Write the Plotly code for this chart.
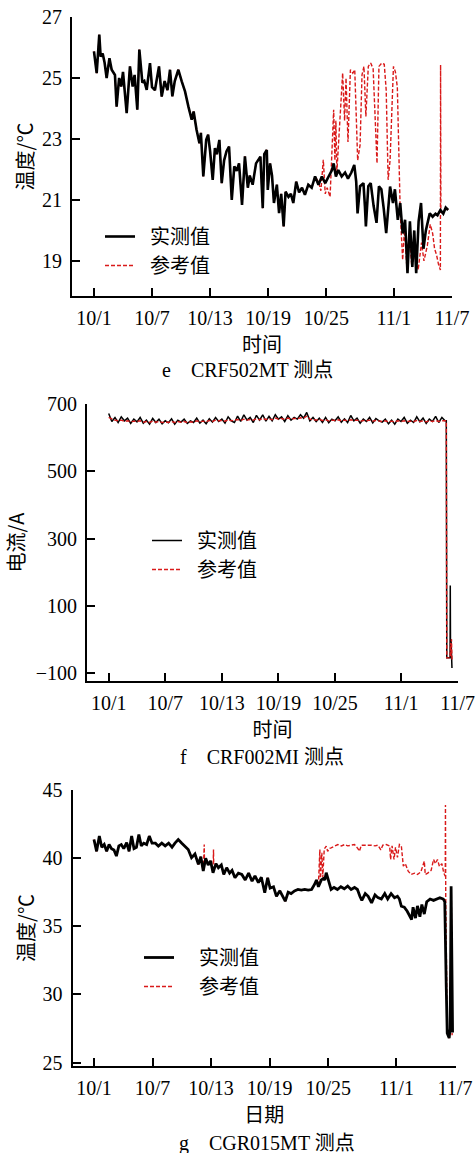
import plotly.graph_objects as go

# ---------------- shared axis labels ----------------
tick_days = [0, 6, 12, 18, 24, 31, 37]
tick_labels = ["10/1", "10/7", "10/13", "10/19", "10/25", "11/1", "11/7"]

# ---------------- panel e : CRF502MT (temperature) ----------------
meas_e_x = [0, 0.28, 0.55, 0.69, 0.9, 1.1, 1.31, 1.6, 1.83, 2.0, 2.17, 2.34, 2.6, 2.82, 3.0, 3.38, 3.72, 4.0, 4.2,
            4.48, 4.69, 5.0, 5.2, 5.45, 5.79, 6.0, 6.3, 6.72, 7.0, 7.3, 7.6, 7.86, 8.1, 8.35, 8.72, 9.07, 9.41, 9.76,
            10.1, 10.3, 10.6, 10.9, 11.05, 11.3, 11.6, 11.8, 12.0, 12.27, 12.5, 12.7, 12.96, 13.2, 13.45, 13.7, 13.96,
            14.24, 14.5, 14.75, 14.99, 15.3, 15.6, 15.9, 16.1, 16.4, 16.75, 17.2, 17.44, 17.6, 17.86, 17.96, 18.2,
            18.4, 18.6, 18.9, 19.13, 19.35, 19.6, 19.8, 20.1, 20.35, 20.6, 20.9, 21.2, 21.5, 21.8, 22.15, 22.5, 22.85,
            23.2, 23.55, 23.9, 24.25, 24.6, 24.77, 25.0, 25.25, 25.6, 25.95, 26.25, 26.6, 26.9, 27.1, 27.24, 27.5,
            27.85, 28.0, 28.1, 28.35, 28.6, 28.9, 29.2, 29.45, 29.7, 29.95, 30.2, 30.6, 30.9, 31.1, 31.4, 31.65, 31.9,
            32.15, 32.4, 32.65, 32.9, 33.1, 33.3, 33.55, 33.8, 34.05, 34.3, 34.7, 35.0, 35.3, 35.5, 35.8, 36.1, 36.35,
            36.6]
meas_e_y = [25.87, 25.16, 26.42, 25.7, 25.8, 25.5, 25.0, 25.65, 25.27, 25.2, 25.1, 24.06, 25.0, 24.72, 25.2, 23.85,
            25.38, 24.72, 25.1, 23.96, 25.93, 24.85, 24.9, 24.61, 25.49, 24.7, 24.6, 25.38, 24.39, 24.9, 24.6, 25.27,
            24.4, 24.9, 25.27, 24.89, 24.56, 24.06, 23.63, 23.9, 23.3, 22.86, 23.2, 21.77, 22.97, 23.14, 22.6, 21.66,
            22.7, 22.5, 22.97, 21.55, 22.3, 22.6, 22.75, 21.0, 22.1, 21.95, 22.2, 20.84, 22.43, 21.4, 21.8, 21.5, 22.2,
            22.42, 20.73, 22.5, 22.64, 21.33, 22.2, 21.8, 20.9, 21.5, 20.57, 21.2, 20.13, 21.27, 21.1, 21.2, 20.9,
            21.6, 21.25, 21.4, 21.17, 21.5, 21.4, 21.77, 21.5, 21.77, 21.55, 21.77, 21.98, 22.2, 21.77, 21.98, 21.77,
            21.9, 21.7, 21.9, 22.15, 21.6, 20.56, 21.45, 21.55, 20.8, 20.13, 21.45, 21.55, 20.8, 20.25, 21.45, 21.35,
            20.7, 19.91, 21.44, 20.9, 21.35, 20.35, 20.9, 19.9, 20.35, 18.6, 20.3, 18.8, 20.0, 18.6, 20.3, 20.9, 19.4,
            20.0, 20.56, 20.45, 20.55, 20.5, 20.67, 20.55, 20.75, 20.67]
# reference coincides with the measurement up to 10/23 (first 88 samples)
ref_e_common = 88
ref_e_tail_x = [23.2, 23.45, 23.7, 23.9, 24.1, 24.4, 24.6, 24.77, 24.9, 25.0, 25.1, 25.3, 25.5, 25.7, 25.9, 26.05,
                26.25, 26.5, 26.75, 26.95, 27.1, 27.25, 27.5, 27.7, 27.9, 28.1, 28.35, 28.6, 28.85, 29.05, 29.25,
                29.45, 29.75, 30.0, 30.2, 30.4, 30.6, 30.95, 31.15, 31.35, 31.5, 31.65, 31.9, 32.1, 32.35, 32.6,
                32.85, 33.2, 33.5, 33.85, 34.1, 34.45, 34.75, 35.0, 35.2, 35.4, 35.6, 35.8, 35.82, 35.85, 36.1,
                36.35, 36.6]
ref_e_tail_y = [21.6, 21.3, 22.32, 21.2, 21.4, 21.1, 22.97, 23.96, 22.3, 23.6, 21.9, 23.0, 24.2, 25.16, 23.6, 25.0,
                22.9, 25.27, 25.16, 25.27, 23.8, 22.3, 22.8, 25.1, 25.38, 23.74, 25.38, 25.49, 25.3, 23.8, 22.2,
                25.38, 25.49, 25.45, 24.6, 21.66, 22.3, 25.38, 25.2, 24.7, 22.0, 20.6, 19.03, 20.1, 18.7, 19.8,
                18.8, 19.3, 18.7, 19.6, 19.0, 19.5, 20.2, 19.9, 19.4, 19.2, 18.9, 18.7, 25.43, 20.6, 20.55, 20.75,
                20.67]
ref_e_x = meas_e_x[:ref_e_common] + ref_e_tail_x
ref_e_y = meas_e_y[:ref_e_common] + ref_e_tail_y
e_yticks = [19, 21, 23, 25, 27]

# ---------------- panel f : CRF002MI (current) ----------------
meas_f_level = [672, 648, 660, 645, 662, 650, 658, 642, 655, 647, 660, 643, 652, 640, 657, 645, 655, 641,
                650, 644, 656, 640, 652, 646, 655, 642, 650, 645, 658, 643, 652, 641, 656, 646, 660, 648,
                655, 643, 662, 650, 645, 664, 648, 668, 652, 660, 645, 666, 652, 668, 649, 663, 650, 668,
                655, 662, 648, 665, 652, 660, 655, 668, 658, 675, 650, 660, 648, 658, 645, 660, 644, 655,
                650, 662, 646, 656, 645, 666, 650, 658, 643, 655, 648, 660, 644, 657, 650, 646, 655, 641,
                652, 640, 655, 648, 660, 643, 652, 645, 662, 647, 658, 642, 655, 648, 663, 645, 660, 650]
ref_f_level = [660, 655, 652, 650, 652, 648, 650, 647, 649, 648, 650, 646, 648, 645, 649, 646, 648, 645,
               647, 645, 648, 645, 648, 646, 648, 645, 647, 646, 650, 647, 649, 647, 651, 648, 652, 650,
               651, 649, 653, 650, 652, 654, 651, 655, 652, 654, 652, 656, 653, 657, 654, 656, 653, 658,
               655, 657, 654, 658, 655, 657, 656, 659, 658, 664, 655, 654, 652, 654, 651, 653, 650, 652,
               651, 653, 650, 652, 650, 653, 651, 652, 649, 651, 650, 652, 649, 651, 650, 648, 650, 647,
               649, 647, 650, 648, 650, 648, 649, 648, 651, 648, 650, 647, 650, 648, 651, 648, 650, 649]
f_sample_step = 1 / 3  # three readings per day
meas_f_tail_x = [35.8, 35.85, 36.2, 36.22, 36.25, 36.3, 36.35, 36.4]
meas_f_tail_y = [650, -55, -55, 160, -50, 0, -50, -85]
ref_f_tail_x = [35.8, 35.85, 36.2, 36.25, 36.3, 36.35, 36.4]
ref_f_tail_y = [650, -55, -55, -10, -50, 0, -60]
f_yticks = [-100, 100, 300, 500, 700]

meas_f_x = [i * f_sample_step for i in range(len(meas_f_level))] + meas_f_tail_x
meas_f_y = meas_f_level + meas_f_tail_y
ref_f_x = [i * f_sample_step for i in range(len(ref_f_level))] + ref_f_tail_x
ref_f_y = ref_f_level + ref_f_tail_y

# ---------------- panel g : CGR015MT (temperature) ----------------
meas_g_x = [0, 0.27, 0.55, 0.8, 1.05, 1.3, 1.55, 1.8, 2.05, 2.3, 2.55, 2.8, 3.05, 3.35, 3.6, 3.86, 4.1, 4.35, 4.6,
            4.85, 5.1, 5.4, 5.67, 5.95, 6.3, 6.6, 6.95, 7.3, 7.65, 8.0, 8.3, 8.64, 9.0, 9.3, 9.66, 10.0, 10.35, 10.7,
            10.95, 11.2, 11.45, 11.7, 11.95, 12.2, 12.5, 12.75, 13.05, 13.3, 13.6, 13.9, 14.15, 14.45, 14.8, 15.15,
            15.5, 15.85, 16.2, 16.5, 16.85, 17.15, 17.5, 17.8, 18.05, 18.4, 18.7, 19.05, 19.35, 19.6, 19.9, 20.2,
            20.55, 20.9, 21.25, 21.6, 21.95, 22.3, 22.6, 22.8, 23.0, 23.3, 23.5, 23.65, 23.8, 24.0, 24.3, 24.6,
            24.95, 25.3, 25.65, 26.0, 26.35, 26.7, 27.0, 27.25, 27.45, 27.8, 28.1, 28.45, 28.8, 29.1, 29.45, 29.8,
            30.1, 30.45, 30.8, 31.1, 31.3, 31.5, 31.8, 32.1, 32.55, 32.7, 32.95, 33.15, 33.4, 33.6, 33.85, 34.1,
            34.45, 34.8, 35.1, 35.45, 35.8, 35.95, 36.1, 36.2, 36.4, 36.5, 36.6, 36.68, 36.75]
meas_g_y = [41.37, 40.5, 41.62, 40.8, 41.0, 40.5, 41.0, 40.7, 40.6, 40.15, 40.9, 41.0, 40.7, 41.13, 40.5, 41.62,
            40.7, 40.8, 41.74, 40.9, 41.1, 41.0, 41.62, 41.1, 41.1, 40.88, 41.1, 40.9, 41.1, 40.8, 41.1, 41.37, 41.1,
            40.9, 40.64, 40.03, 40.3, 39.54, 40.1, 39.05, 40.0, 39.5, 39.8, 38.93, 39.6, 39.3, 39.5, 38.8, 39.3, 38.9,
            39.1, 38.56, 38.9, 38.8, 38.4, 38.9, 38.31, 38.7, 38.2, 38.6, 37.46, 38.56, 37.8, 37.9, 37.2, 37.6, 37.2,
            36.84, 37.5, 37.4, 37.6, 37.7, 37.65, 37.7, 37.65, 37.7, 38.07, 38.4, 37.9, 38.4, 38.5, 38.4, 38.93, 38.4,
            37.7, 37.85, 37.7, 37.9, 37.75, 37.95, 37.7, 37.85, 37.7, 37.2, 36.9, 37.4, 37.2, 36.72, 37.3, 37.1,
            37.0, 37.4, 37.0, 37.4, 37.1, 37.2, 37.0, 36.47, 36.4, 36.1, 35.5, 36.4, 35.6, 36.5, 35.7, 36.6, 35.9,
            36.8, 37.0, 36.9, 37.0, 37.09, 37.0, 36.8, 30.6, 27.16, 26.8, 27.5, 37.94, 32.0, 27.2]
# reference: same as measurement up to 10/23 except two short spikes, then its own course
ref_g_spike1_x = [11.3, 11.32]
ref_g_spike1_y = [41.0, 39.8]
ref_g_spike2_x = [12.25, 12.27]
ref_g_spike2_y = [40.64, 39.6]
ref_g_tail_x = [22.8, 23.0, 23.1, 23.15, 23.2, 23.35, 23.45, 23.6, 23.7, 23.8, 23.95, 24.1, 24.3, 24.7, 25.0, 25.35,
                25.7, 26.0, 26.35, 26.7, 27.05, 27.2, 27.4, 27.75, 28.1, 28.45, 28.8, 29.1, 29.4, 29.6, 29.95, 30.3,
                30.4, 30.55, 30.75, 30.9, 31.1, 31.3, 31.5, 31.7, 31.9, 32.2, 32.5, 32.85, 33.15, 33.5, 33.85, 33.95,
                34.2, 34.55, 34.8, 35.0, 35.2, 35.4, 35.65, 35.85, 36.0, 36.02, 36.05, 36.2, 36.4, 36.5, 36.62, 36.7]
ref_g_tail_y = [38.4, 38.0, 40.3, 40.64, 38.3, 40.4, 38.6, 40.7, 40.76, 40.88, 40.5, 40.7, 40.76, 40.88, 41.0, 40.9,
                41.0, 40.9, 40.95, 41.0, 40.7, 40.5, 40.95, 40.95, 41.0, 40.95, 40.9, 40.95, 40.6, 40.95, 41.0, 40.9,
                39.9, 40.9, 39.9, 40.8, 40.05, 41.0, 40.9, 39.41, 39.6, 39.05, 38.8, 38.9, 38.8, 39.0, 39.78, 38.8,
                38.9, 39.1, 39.9, 39.6, 39.9, 39.4, 39.6, 38.9, 38.68, 43.9, 37.0, 27.2, 26.8, 27.5, 37.5, 27.0]
ref_g_x = (meas_g_x[:40] + ref_g_spike1_x + meas_g_x[40:44] + ref_g_spike2_x + meas_g_x[44:77] + ref_g_tail_x)
ref_g_y = (meas_g_y[:40] + ref_g_spike1_y + meas_g_y[40:44] + ref_g_spike2_y + meas_g_y[44:77] + ref_g_tail_y)
g_yticks = [25, 30, 35, 40, 45]

# ---------------- styling ----------------
FONT = "Liberation Serif, Noto Sans CJK SC, serif"
CJK = "Noto Sans CJK SC, Liberation Serif, sans-serif"
BLACK = "#000000"
RED = "#d91a1a"
W, H = 475, 1153


def px_dom(a, b):
    return [a / W, b / W]


def py_dom(top, bottom):
    return [(H - bottom) / H, (H - top) / H]


def xaxis(dom, anchor, rng, title):
    return dict(domain=dom, anchor=anchor, range=rng, tickmode="array", tickvals=tick_days, ticktext=tick_labels,
                ticks="inside", ticklen=8, tickwidth=2, tickcolor=BLACK, showline=True, linewidth=2,
                linecolor=BLACK, showgrid=False, zeroline=False, ticklabelstandoff=3, automargin=False,
                ticklabeloverflow="allow",
                tickfont=dict(family=FONT, size=20, color=BLACK),
                title=dict(text=title, font=dict(family=CJK, size=20, color=BLACK), standoff=0))


def yaxis(dom, anchor, rng, ticks, title, standoff):
    return dict(domain=dom, anchor=anchor, range=rng, tickmode="array", tickvals=ticks,
                ticks="inside", ticklen=8, tickwidth=2, tickcolor=BLACK, showline=True, linewidth=2,
                linecolor=BLACK, showgrid=False, zeroline=False, ticklabelstandoff=4, automargin=False,
                ticklabeloverflow="allow",
                tickfont=dict(family=FONT, size=20, color=BLACK),
                title=dict(text=title, font=dict(family=CJK, size=20, color=BLACK), standoff=standoff))


fig = go.Figure()
# (axes, legend, data, black width, reference drawn above measurement?, label padding)
panels = [
    ("x", "y", "legend", meas_e_x, meas_e_y, ref_e_x, ref_e_y, 2.6, False, "\u2002"),
    ("x2", "y2", "legend2", meas_f_x, meas_f_y, ref_f_x, ref_f_y, 1.5, True, "\u2002"),
    ("x3", "y3", "legend3", meas_g_x, meas_g_y, ref_g_x, ref_g_y, 2.8, False, "\u2003"),
]
for xa, ya, lg, mx, my, rx, ry, bw, ref_on_top, pad in panels:
    meas = go.Scatter(x=mx, y=my, mode="lines", name=pad + "实测值", xaxis=xa, yaxis=ya, legend=lg,
                      legendrank=1, line=dict(color=BLACK, width=bw))
    ref = go.Scatter(x=rx, y=ry, mode="lines", name=pad + "参考值", xaxis=xa, yaxis=ya, legend=lg,
                     legendrank=2, line=dict(color=RED, width=1.4, dash="4px,2px"))
    if ref_on_top:
        fig.add_trace(meas)
        fig.add_trace(ref)
    else:
        fig.add_trace(ref)
        fig.add_trace(meas)

leg_common = dict(xanchor="left", yanchor="top", bgcolor="rgba(0,0,0,0)", tracegroupgap=0,
                  traceorder="normal", font=dict(family=CJK, size=20, color=BLACK))


def leg(x_left, y_top):
    return dict(x=x_left / W, y=(H - y_top) / H, **leg_common)


def caption(text, xc, yc):
    return dict(text=text, x=xc / W, y=(H - yc) / H, xref="paper", yref="paper", showarrow=False,
                font=dict(family=FONT, size=20, color=BLACK), xanchor="center", yanchor="middle")


fig.update_layout(
    template="none",
    width=W, height=H, margin=dict(l=0, r=0, t=0, b=0, pad=0),
    paper_bgcolor="white", plot_bgcolor="white", showlegend=True,
    xaxis=xaxis(px_dom(72, 452), "y", [-2.27, 37], "时间"),
    yaxis=yaxis(py_dom(17, 296), "x", [17.85, 27], e_yticks, "温度/℃", 3),
    xaxis2=xaxis(px_dom(87, 458), "y2", [-2.3, 37.04], "时间"),
    yaxis2=yaxis(py_dom(404, 681), "x2", [-123.8, 700], f_yticks, "电流/A", 6),
    xaxis3=xaxis(px_dom(72.5, 456), "y3", [-2.2, 37.1], "日期"),
    yaxis3=yaxis(py_dom(790, 1066), "x3", [24.75, 45], g_yticks, "温度/℃", 3),
    legend=leg(100, 217),
    legend2=leg(147, 521),
    legend3=leg(139, 938),
    annotations=[
        caption("e\u2003CRF502MT 测点", 247, 370),
        caption("f\u2003CRF002MI 测点", 262, 757),
        caption("g\u2003CGR015MT 测点", 267, 1143),
    ],
)

fig.write_html("out.html")
